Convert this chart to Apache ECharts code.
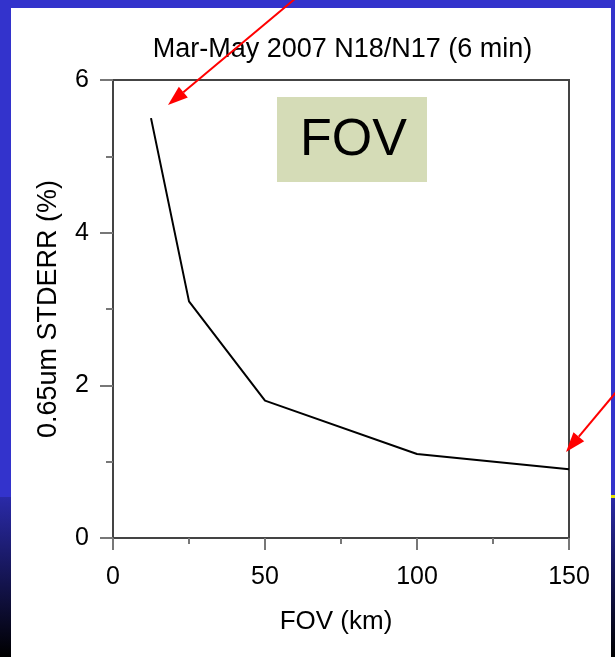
<!DOCTYPE html>
<html>
<head>
<meta charset="utf-8">
<script src="https://cdn.jsdelivr.net/npm/echarts@6/dist/echarts.min.js"></script>
<style>
html,body{margin:0;padding:0;background:#fff;}
#c{width:615px;height:657px;}
</style>
</head>
<body>
<div id="c"></div>
<script>
const fovKm = [12.5, 25, 50, 100, 150];
const stderrPct = [5.5, 3.1, 1.8, 1.1, 0.9];
const xTicks = [0, 50, 100, 150];
const yTicks = [0, 2, 4, 6];
const titleText = 'Mar-May 2007 N18/N17 (6 min)';
const xName = 'FOV (km)';
const yName = '0.65um STDERR (%)';
const boxLabel = 'FOV';

const FONT = '"Liberation Sans", Arial, sans-serif';
const chart = echarts.init(document.getElementById('c'));

function arrow(x1, y1, x2, y2) {
  const ang = Math.atan2(y2 - y1, x2 - x1);
  const L = 20, W = 7;
  const bx = x2 - L * Math.cos(ang), by = y2 - L * Math.sin(ang);
  const px = -Math.sin(ang) * W, py = Math.cos(ang) * W;
  return [
    {type: 'line', shape: {x1: x1, y1: y1, x2: bx, y2: by}, style: {stroke: '#ff0000', lineWidth: 2}, z: 100},
    {type: 'polygon', shape: {points: [[x2, y2], [bx + px, by + py], [bx - px, by - py]]}, style: {fill: '#ff0000'}, z: 100}
  ];
}

const graphics = [
  {type: 'rect', shape: {x: 0, y: 0, width: 615, height: 8}, style: {fill: '#3333cc'}, z: 50},
  {type: 'rect', shape: {x: 0, y: 0, width: 11, height: 497}, style: {fill: '#3333cc'}, z: 50},
  {type: 'rect', shape: {x: 0, y: 497, width: 11, height: 160}, style: {fill: new echarts.graphic.LinearGradient(0, 0, 0, 1, [{offset: 0, color: '#2a2aa8'}, {offset: 1, color: '#000000'}])}, z: 50},
  {type: 'rect', shape: {x: 611, y: 0, width: 4, height: 495}, style: {fill: '#3333cc'}, z: 50},
  {type: 'rect', shape: {x: 611, y: 495, width: 4, height: 162}, style: {fill: new echarts.graphic.LinearGradient(0, 0, 0, 1, [{offset: 0, color: '#2a2aa8'}, {offset: 1, color: '#000000'}])}, z: 50},
  {type: 'rect', shape: {x: 611, y: 495, width: 4, height: 3}, style: {fill: '#e8e800'}, z: 51},
  {type: 'rect', shape: {x: 277, y: 97, width: 150, height: 85}, style: {fill: '#d5dcb7'}, z: 40},
  {type: 'text', x: 353.5, y: 141, style: {text: boxLabel, font: '52px ' + FONT, fill: '#000', align: 'center', verticalAlign: 'middle'}, z: 41}
].concat(arrow(296, -2, 168, 105), arrow(617, 391, 566, 452));

chart.setOption({
  backgroundColor: '#ffffff',
  animation: false,
  title: {
    text: titleText,
    left: 337.5,
    top: 31,
    textAlign: 'center',
    textStyle: {fontFamily: FONT, fontSize: 27, fontWeight: 'normal', color: '#000'}
  },
  grid: {left: 113, right: 46, top: 80, bottom: 119, show: true, borderColor: '#444', borderWidth: 2, backgroundColor: '#fff'},
  xAxis: {
    type: 'value', min: xTicks[0], max: xTicks[xTicks.length - 1], interval: 50,
    name: xName, nameLocation: 'middle', nameGap: 71,
    nameTextStyle: {fontFamily: FONT, fontSize: 26, color: '#000', padding: [0, 10, 0, 0]},
    axisLine: {show: true, onZero: false, lineStyle: {color: '#444', width: 2}},
    axisTick: {show: true, inside: false, length: 12, lineStyle: {color: '#777', width: 2}},
    minorTick: {show: true, splitNumber: 2, length: 6, lineStyle: {color: '#777', width: 2}},
    axisLabel: {margin: 27, fontFamily: FONT, fontSize: 25, color: '#000'},
    splitLine: {show: false}
  },
  yAxis: {
    type: 'value', min: yTicks[0], max: yTicks[yTicks.length - 1], interval: 2,
    name: yName, nameLocation: 'middle', nameGap: 51, nameRotate: 90,
    nameTextStyle: {fontFamily: FONT, fontSize: 27, color: '#000'},
    axisLine: {show: true, onZero: false, lineStyle: {color: '#444', width: 2}},
    axisTick: {show: true, inside: false, length: 13, lineStyle: {color: '#777', width: 2}},
    minorTick: {show: true, splitNumber: 2, length: 7, lineStyle: {color: '#777', width: 2}},
    axisLabel: {margin: 24, fontFamily: FONT, fontSize: 25, color: '#000'},
    splitLine: {show: false}
  },
  series: [{
    type: 'line',
    data: fovKm.map((x, i) => [x, stderrPct[i]]),
    symbol: 'none',
    lineStyle: {color: '#000', width: 2},
    z: 10
  }],
  graphic: graphics
});
</script>
</body>
</html>
